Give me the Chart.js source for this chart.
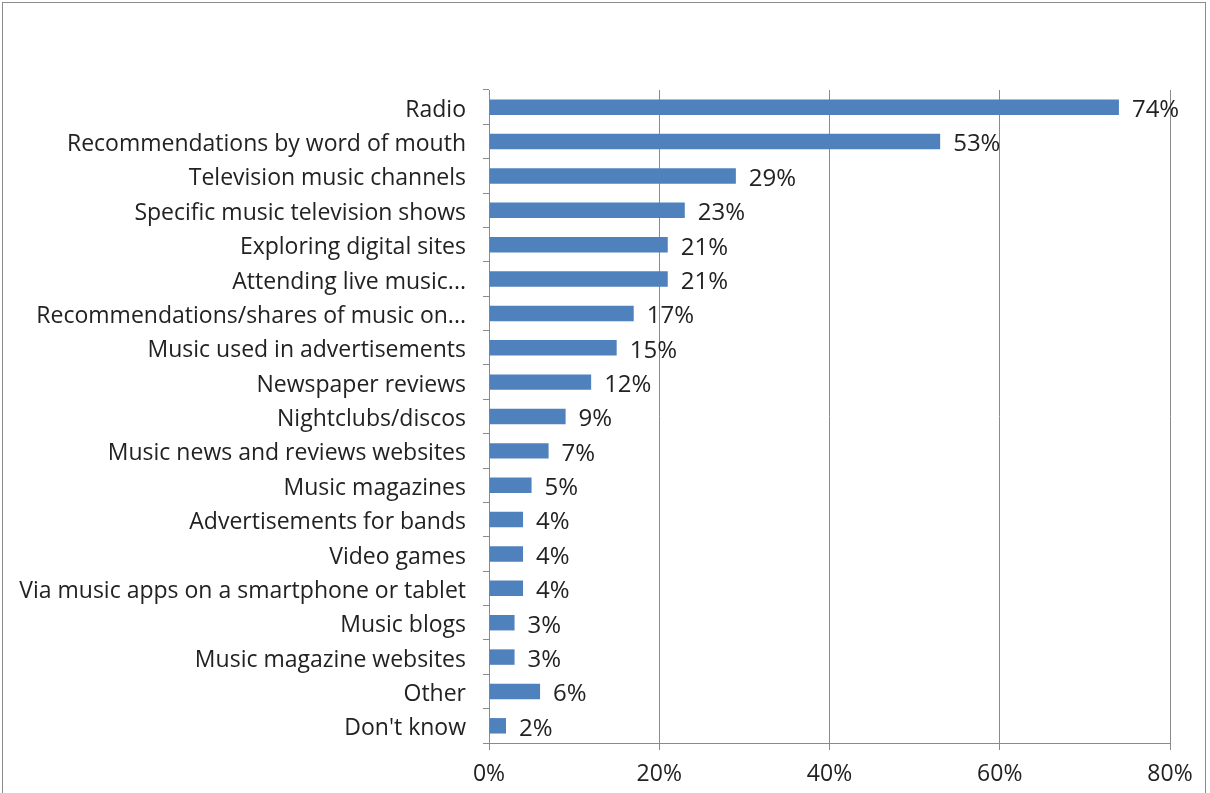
<!DOCTYPE html>
<html>
<head>
<meta charset="utf-8">
<script src="https://cdn.jsdelivr.net/npm/chart.js@4/dist/chart.umd.min.js"></script>
<style>
    body { margin: 0; background: #fff; }
    #wrap { position: relative; width: 1210px; height: 793px; }
    #frame { position: absolute; left: 2px; top: 2px; width: 1204px; height: 800px; border: 1px solid #8c8c8c; box-sizing: border-box; }
    canvas { position: absolute; left: 0; top: 0; }
</style>
</head>
<body>
<div id="wrap">
    <div id="frame"></div>
    <canvas id="bars" width="1210" height="793"></canvas>
</div>
<script>
const categories = [
    'Radio',
    'Recommendations by word of mouth',
    'Television music channels',
    'Specific music television shows',
    'Exploring digital sites',
    'Attending live music...',
    'Recommendations/shares of music on...',
    'Music used in advertisements',
    'Newspaper reviews',
    'Nightclubs/discos',
    'Music news and reviews websites',
    'Music magazines',
    'Advertisements for bands',
    'Video games',
    'Via music apps on a smartphone or tablet',
    'Music blogs',
    'Music magazine websites',
    'Other',
    "Don't know"
];
const shares = [74, 53, 29, 23, 21, 21, 17, 15, 12, 9, 7, 5, 4, 4, 4, 3, 3, 6, 2];
const xTicks = [0, 20, 40, 60, 80];

const fontFamily = "'Open Sans', sans-serif";

// draws the "74%" style labels right of each bar
const valueLabels = {
    id: 'valueLabels',
    afterDatasetsDraw(chart) {
        const ctx = chart.ctx;
        const meta = chart.getDatasetMeta(0);
        ctx.save();
        ctx.font = "24px " + fontFamily;
        ctx.fillStyle = '#222';
        ctx.textBaseline = 'middle';
        meta.data.forEach((bar, i) => {
            ctx.fillText(shares[i] + '%', bar.x + 13, bar.y + 3);
        });
        ctx.restore();
    }
};

let ctx = document.getElementById('bars');
let barChart = new Chart(ctx, {
    type: 'bar',
    data: {
        labels: categories,
        datasets: [{
            data: shares,
            backgroundColor: '#4F81BD',
            borderWidth: 0,
            barPercentage: 0.45,
            categoryPercentage: 1
        }]
    },
    plugins: [valueLabels],
    options: {
        indexAxis: 'y',
        responsive: false,
        animation: false,
        layout: {
            padding: { top: 90, right: 40, left: 0, bottom: 0 }
        },
        scales: {
            x: {
                min: 0,
                max: 80,
                afterBuildTicks: (s) => { s.ticks = xTicks.map(v => ({ value: v })); },
                afterFit: (s) => { s.height = 50; },
                ticks: {
                    callback: (v) => v + '%',
                    color: '#222',
                    font: { family: fontFamily, size: 23 },
                    padding: 11
                },
                grid: {
                    color: '#8a8a8a',
                    lineWidth: 1,
                    drawTicks: true,
                    tickLength: 7
                },
                border: { color: '#8a8a8a' }
            },
            y: {
                afterFit: (s) => { s.width = 489; },
                ticks: {
                    color: '#222',
                    font: { family: fontFamily, size: 23 },
                    padding: 17,
                    labelOffset: 3,
                    autoSkip: false
                },
                grid: {
                    drawOnChartArea: false,
                    drawTicks: true,
                    tickLength: 6,
                    color: '#8a8a8a'
                },
                border: { color: '#8a8a8a' }
            }
        },
        plugins: {
            legend: { display: false },
            tooltip: { enabled: false }
        }
    }
});
</script>
</body>
</html>
